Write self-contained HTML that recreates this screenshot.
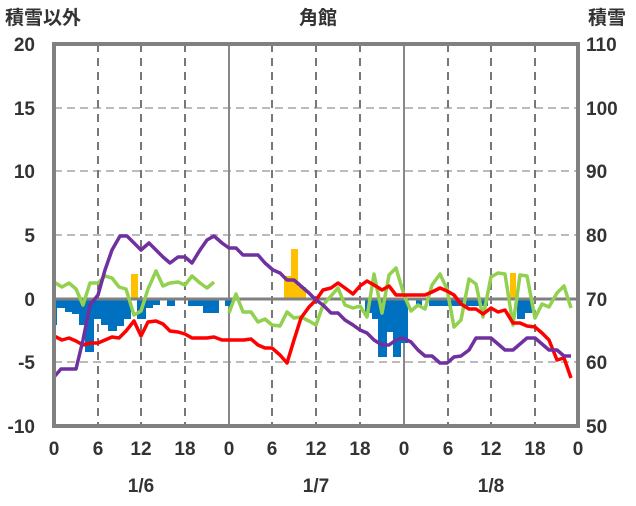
<!DOCTYPE html><html><head><meta charset="utf-8"><style>
body{margin:0;background:#fff}
svg text{font-family:"Liberation Sans","Noto Sans CJK JP",sans-serif;font-size:19px;fill:#333;font-weight:600}
</style></head><body>
<svg width="636" height="501" xmlns="http://www.w3.org/2000/svg">
<g stroke="#bbb" stroke-width="2" stroke-dasharray="8,5">
<line x1="54" x2="578" y1="108" y2="108"/><line x1="54" x2="578" y1="171" y2="171"/><line x1="54" x2="578" y1="235" y2="235"/><line x1="54" x2="578" y1="362" y2="362"/>
</g>
<g stroke="#777" stroke-width="2" stroke-dasharray="8,6">
<line x1="98" x2="98" y1="44" y2="426"/><line x1="141" x2="141" y1="44" y2="426"/><line x1="185" x2="185" y1="44" y2="426"/>
<line x1="272" x2="272" y1="44" y2="426"/><line x1="316" x2="316" y1="44" y2="426"/><line x1="360" x2="360" y1="44" y2="426"/>
<line x1="448" x2="448" y1="44" y2="426"/><line x1="491" x2="491" y1="44" y2="426"/><line x1="535" x2="535" y1="44" y2="426"/>
</g>
<g stroke="#888" stroke-width="2"><line x1="229" x2="229" y1="44" y2="426"/><line x1="404" x2="404" y1="44" y2="426"/></g>
<g fill="#0070c0">
<rect x="53" y="299" width="4" height="26"/><rect x="57" y="299" width="8" height="9"/><rect x="65" y="299" width="7" height="13"/><rect x="72" y="299" width="7" height="15"/><rect x="79" y="299" width="6" height="26"/><rect x="85" y="299" width="9" height="53"/><rect x="94" y="299" width="7" height="20"/><rect x="101" y="299" width="7" height="26"/><rect x="108" y="299" width="9" height="32"/><rect x="117" y="299" width="7" height="27"/><rect x="124" y="299" width="7" height="20"/><rect x="137" y="299" width="9" height="20"/><rect x="146" y="299" width="7" height="9"/><rect x="153" y="299" width="7" height="6"/><rect x="167" y="299" width="8" height="7"/><rect x="188" y="299" width="15" height="7"/><rect x="203" y="299" width="16" height="14"/><rect x="225" y="299" width="8" height="7"/>
<rect x="365" y="299" width="7" height="14"/><rect x="372" y="299" width="6" height="20"/><rect x="378" y="299" width="9" height="58"/><rect x="387" y="299" width="6" height="33"/><rect x="393" y="299" width="8" height="58"/><rect x="401" y="299" width="7" height="44"/><rect x="416" y="299" width="6" height="7"/><rect x="429" y="299" width="59" height="7"/><rect x="517" y="299" width="8" height="20"/><rect x="525" y="299" width="7" height="14"/>
</g>
<g fill="#ffc000"><rect x="131" y="274" width="7" height="25"/><rect x="284" y="276" width="7" height="23"/><rect x="291" y="249" width="7" height="50"/><rect x="298" y="287" width="8" height="12"/><rect x="510" y="273" width="6" height="26"/></g>
<line x1="54" x2="578" y1="299" y2="299" stroke="#808080" stroke-width="3"/>
<g fill="none" stroke-width="3.5" stroke-linejoin="round">
<polyline stroke="#92d050" points="54,282 62,287 69,283 76,289 83,305 90,283 98,283 105,276 112,278 119,287 126,289 134,315 141,311 148,289 156,271 163,286 170,283 178,282 185,285 192,276 200,283 207,288 214,282"/>
<polyline stroke="#92d050" points="229,313 236,294 243,312 251,312 258,322 265,319 272,325 280,326 287,312 294,318 301,317 309,321 316,325 323,305 331,296 338,288 345,305 353,308 360,306 367,317 374,274 382,313 389,275 396,268 404,295 411,311 418,305 425,309 432,285 440,274 447,289 454,327 461,320 469,279 476,284 483,317 491,277 498,273 505,274 513,325 520,275 527,276 535,318 542,304 549,307 557,293 564,286 571,308"/>
<polyline stroke="#ff0000" points="54,336 62,340 69,338 76,341 83,345 91,343 98,343 105,340 112,337 119,338 126,331 134,321 141,336 148,322 156,321 163,324 170,331 178,332 185,334 192,338 199,338 207,338 214,337 222,340 229,340 236,340 244,340 251,339 258,345 265,348 272,348 280,355 287,363 294,340 301,318 309,307 316,300 323,290 331,288 338,283 345,288 353,294 360,286 367,281 374,285 382,290 389,286 396,295 404,295 411,295 418,295 425,295 432,292 440,288 447,291 454,295 461,304 469,309 476,309 483,314 491,308 498,312 505,310 513,323 520,323 527,326 535,327 542,333 549,340 557,360 564,358 571,378"/>
<polyline stroke="#7030a0" points="54,377 61,369 76,369 83,340 90,305 98,295 105,270 112,250 120,236 127,236 134,243 141,250 149,243 156,250 163,257 170,263 178,257 185,257 192,263 200,250 207,240 214,236 222,243 229,248 236,248 243,255 251,255 258,255 265,263 273,270 280,273 287,280 294,280 302,287 309,293 316,300 323,305 331,313 338,313 345,320 353,325 360,330 367,333 374,340 382,345 389,345 396,340 403,338 411,342 418,350 425,356 432,356 440,363 447,363 454,357 461,356 469,350 476,338 483,338 491,338 498,344 505,350 513,350 520,344 527,338 535,338 542,344 549,350 557,350 564,356 571,356"/>
</g>
<rect x="54" y="44" width="524" height="382" fill="none" stroke="#808080" stroke-width="4"/>
<text x="5" y="24">積雪以外</text><text x="318" y="24" text-anchor="middle">角館</text><text x="588" y="24">積雪</text>
<g text-anchor="end"><text x="35" y="51">20</text><text x="35" y="115">15</text><text x="35" y="178">10</text><text x="35" y="242">5</text><text x="35" y="306">0</text><text x="35" y="369">-5</text><text x="35" y="433">-10</text></g>
<g><text x="586" y="51">110</text><text x="586" y="115">100</text><text x="586" y="178">90</text><text x="586" y="242">80</text><text x="586" y="306">70</text><text x="586" y="369">60</text><text x="586" y="433">50</text></g>
<g text-anchor="middle"><text x="54" y="455">0</text><text x="98" y="455">6</text><text x="141" y="455">12</text><text x="185" y="455">18</text><text x="229" y="455">0</text><text x="272" y="455">6</text><text x="316" y="455">12</text><text x="360" y="455">18</text><text x="404" y="455">0</text><text x="448" y="455">6</text><text x="491" y="455">12</text><text x="535" y="455">18</text><text x="578" y="455">0</text>
<text x="141" y="492">1/6</text><text x="316" y="492">1/7</text><text x="491" y="492">1/8</text></g>
</svg></body></html>
